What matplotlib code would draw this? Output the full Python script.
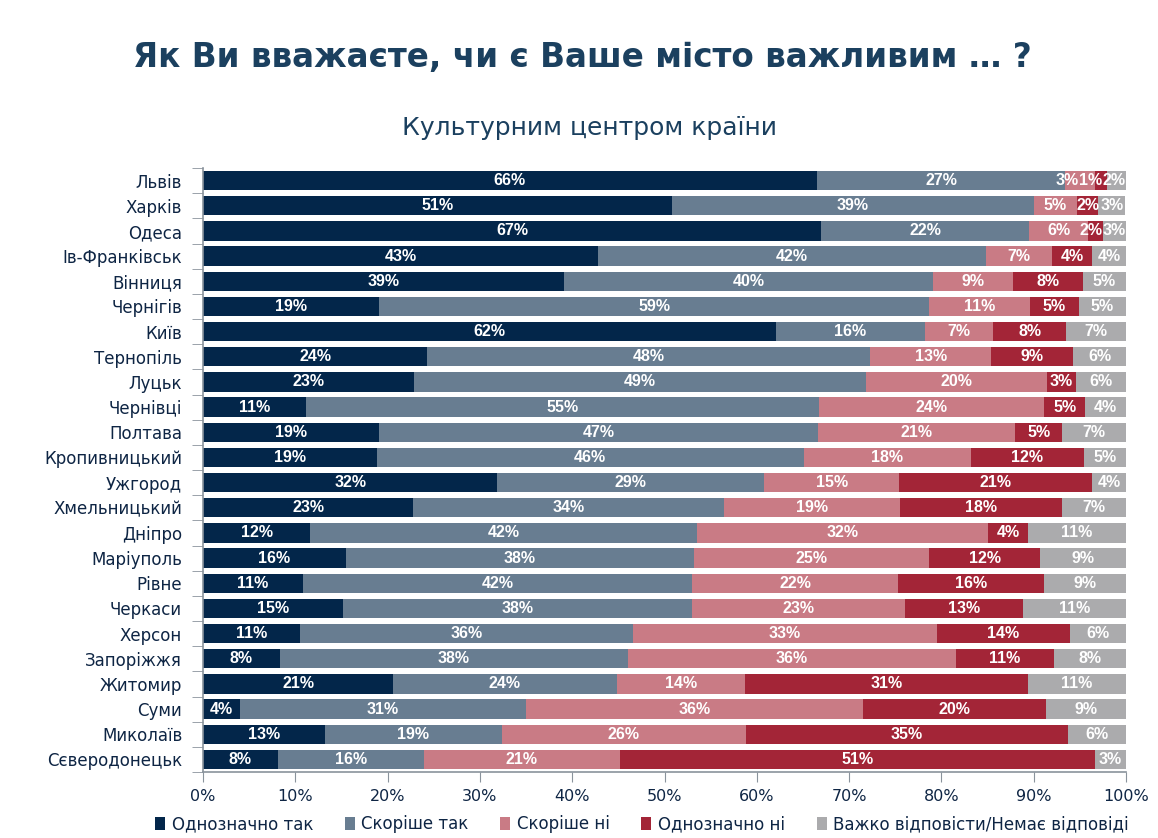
import numpy as np
import matplotlib
matplotlib.use("Agg")
import matplotlib.pyplot as plt
from matplotlib.patches import Patch

# ..............................................................................
cities = ["Львів", "Харків", "Одеса", "Ів-Франківськ", "Вінниця", "Чернігів",
          "Київ", "Тернопіль", "Луцьк", "Чернівці", "Полтава", "Кропивницький",
          "Ужгород", "Хмельницький", "Дніпро", "Маріуполь", "Рівне", "Черкаси",
          "Херсон", "Запоріжжя", "Житомир", "Суми", "Миколаїв", "Сєверодонецьк"]

seriesNames = ["Однозначно так", "Скоріше так", "Скоріше ні", "Однозначно ні",
               "Важко відповісти/Немає відповіді"]

# bar widths (%)
yesSure = [66.5, 50.8, 67.0, 42.8, 39.1, 19.1, 62.1, 24.3, 22.9, 11.2, 19.1, 18.8,
           31.9, 22.8, 11.6, 15.5, 10.8, 15.2, 10.5, 8.3, 20.6, 4.0, 13.2, 8.1]
yesRather = [26.9, 39.2, 22.5, 42.0, 40.0, 59.6, 16.1, 48.0, 48.9, 55.5, 47.5, 46.3,
             28.9, 33.7, 41.9, 37.7, 42.2, 37.8, 36.1, 37.7, 24.2, 31.0, 19.2, 15.8]
noRather = [3.2, 4.7, 6.4, 7.2, 8.7, 10.9, 7.4, 13.1, 19.6, 24.4, 21.4, 18.1,
            14.6, 19.0, 31.5, 25.5, 22.3, 23.1, 32.9, 35.6, 13.9, 36.5, 26.4, 21.3]
noSure = [1.3, 2.3, 1.6, 4.3, 7.5, 5.3, 7.9, 8.9, 3.2, 4.5, 5.1, 12.2,
          20.9, 17.6, 4.4, 12.0, 15.8, 12.7, 14.4, 10.6, 30.7, 19.8, 34.9, 51.4]
hardToSay = [2.1, 2.9, 2.7, 3.7, 4.7, 5.1, 6.5, 5.7, 5.4, 4.4, 6.9, 4.6,
             3.7, 6.9, 10.6, 9.3, 8.9, 11.2, 6.1, 7.8, 10.6, 8.7, 6.3, 3.4]

# labels as printed on the bars
lblYesSure = [66, 51, 67, 43, 39, 19, 62, 24, 23, 11, 19, 19,
              32, 23, 12, 16, 11, 15, 11, 8, 21, 4, 13, 8]
lblYesRather = [27, 39, 22, 42, 40, 59, 16, 48, 49, 55, 47, 46,
                29, 34, 42, 38, 42, 38, 36, 38, 24, 31, 19, 16]
lblNoRather = [3, 5, 6, 7, 9, 11, 7, 13, 20, 24, 21, 18,
               15, 19, 32, 25, 22, 23, 33, 36, 14, 36, 26, 21]
lblNoSure = [1, 2, 2, 4, 8, 5, 8, 9, 3, 5, 5, 12,
             21, 18, 4, 12, 16, 13, 14, 11, 31, 20, 35, 51]
lblHard = [2, 3, 3, 4, 5, 5, 7, 6, 6, 4, 7, 5,
           4, 7, 11, 9, 9, 11, 6, 8, 11, 9, 6, 3]

colors = ["#03264A", "#687D91", "#C97B85", "#A32537", "#ABABAD"]

# ..............................................................................
plt.rcParams["font.family"] = ["DejaVu Sans"]
barFont = ["Liberation Sans", "DejaVu Sans"]
barFs = 11.5
textColor = "#0E2544"
axisColor = "#8A939C"

fig = plt.figure(figsize=(11.58, 8.38), dpi=100)
ax = fig.add_axes([203/1158, 1-772/838, (1126-203)/1158, (772-168)/838])
pxPerPct = (1126 - 203) / 100.0

valuesL = [np.array(v) for v in [yesSure, yesRather, noRather, noSure, hardToSay]]
labelsL = [lblYesSure, lblYesRather, lblNoRather, lblNoSure, lblHard]

y = np.arange(len(cities))
left = np.zeros(len(cities))
centers = []
for k, vals in enumerate(valuesL):
    ax.barh(y, vals, left=left, height=0.77, color=colors[k], edgecolor="none")
    centers.append(left + vals/2)
    left = left + vals

# approximate label width in % units (Liberation Sans Bold metrics)
def labelWidth(n):
    txt = "%d" % n
    return (len(txt)*0.556 + 0.889) * barFs*100/72.0 / pxPerPct

# push crowded labels leftwards so that the thin segments do not collide
for i in range(len(cities)):
    xs = [centers[k][i] for k in range(5)]
    ws = [labelWidth(labelsL[k][i]) for k in range(5)]
    xs[4] = min(xs[4], 100 - ws[4]/2)
    for k in range(3, -1, -1):
        xs[k] = min(xs[k], xs[k+1] - (ws[k] + ws[k+1])/2 - 0.05)
    for k in range(5):
        ax.text(xs[k], y[i], "%d%%" % labelsL[k][i],
                ha="center", va="center", color="white", fontsize=barFs,
                fontweight="bold", family=barFont)

ax.set_ylim(len(cities) - 0.5, -0.5)
ax.set_xlim(0, 100)

ax.set_xticks(np.arange(0, 101, 10))
ax.set_xticklabels(["%d%%" % v for v in range(0, 101, 10)])
ax.set_yticks(y)
ax.set_yticklabels(cities)
ax.set_yticks(np.arange(-0.5, len(cities), 1), minor=True)

ax.tick_params(axis="x", direction="out", length=7, color=axisColor,
               labelsize=11.5, labelcolor=textColor, pad=5)
ax.tick_params(axis="y", which="major", length=0, labelsize=12,
               labelcolor=textColor, pad=15)
ax.tick_params(axis="y", which="minor", direction="out", length=8, color=axisColor)

for s in ["top", "right"]:
    ax.spines[s].set_visible(False)
for s in ["left", "bottom"]:
    ax.spines[s].set_color(axisColor)
    ax.spines[s].set_linewidth(1.2)

# ..............................................................................
fig.text(0.503, 1-58/838, "Як Ви вважаєте, чи є Ваше місто важливим … ?",
         ha="center", va="center", fontsize=23.5, fontweight="bold", color="#1B405F")
fig.text(0.509, 1-128/838, "Культурним центром країни",
         ha="center", va="center", fontsize=18, color="#1B405F")

handles = [Patch(facecolor=c, edgecolor="none") for c in colors]
fig.legend(handles, seriesNames, loc="center", ncol=5,
           bbox_to_anchor=(642/1158, 1-824/838), frameon=False,
           fontsize=12, handlelength=0.6, handleheight=0.8, handletextpad=0.4,
           columnspacing=1.9, labelcolor=textColor)

fig.savefig("out.png", dpi=100)
